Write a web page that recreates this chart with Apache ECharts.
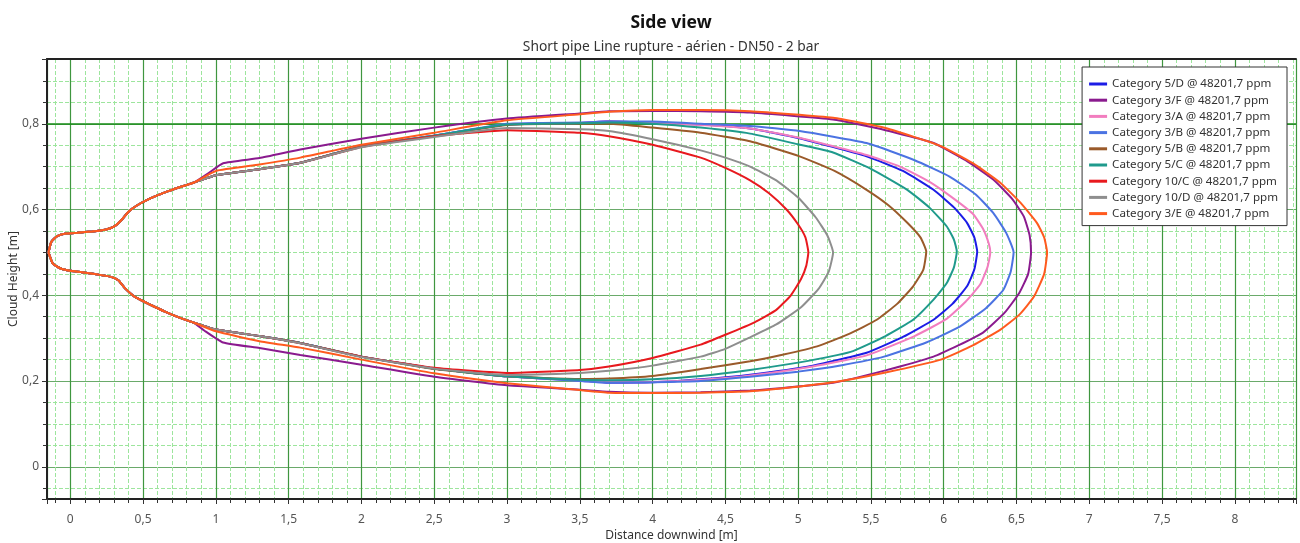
<!DOCTYPE html>
<html>
<head>
<meta charset="utf-8">
<script src="https://cdn.jsdelivr.net/npm/echarts@6/dist/echarts.min.js"></script>
<style>
html,body{margin:0;padding:0;background:#fff;}
#chart{width:1300px;height:543px;}
</style>
</head>
<body>
<div id="chart"></div>
<script>
// ---- data (x = distance downwind [m], y = cloud height [m]) ----
const seriesNames = [
  "Category 5/D @ 48201,7 ppm",
  "Category 3/F @ 48201,7 ppm",
  "Category 3/A @ 48201,7 ppm",
  "Category 3/B @ 48201,7 ppm",
  "Category 5/B @ 48201,7 ppm",
  "Category 5/C @ 48201,7 ppm",
  "Category 10/C @ 48201,7 ppm",
  "Category 10/D @ 48201,7 ppm",
  "Category 3/E @ 48201,7 ppm"
];

// shared source region (upper branch, from the upwind tip)
const leftTop = [[-0.15,0.50],[-0.13,0.525],[-0.09,0.538],[-0.03,0.544],[0.05,0.546],[0.15,0.549],[0.24,0.553],[0.30,0.560],[0.35,0.575],[0.40,0.595],[0.46,0.610],[0.55,0.626],[0.65,0.640],[0.75,0.652],[0.85,0.663]];
// shared source region (lower branch, back to the upwind tip)
const leftBottom = [[0.85,0.336],[0.75,0.348],[0.65,0.362],[0.55,0.378],[0.45,0.395],[0.38,0.415],[0.33,0.435],[0.28,0.443],[0.18,0.449],[0.08,0.454],[0.0,0.457],[-0.07,0.463],[-0.12,0.474],[-0.15,0.50]];

const cat5D = [[1.0,0.68],[1.3,0.694],[1.58,0.709],[2.0,0.747],[2.5,0.772],[3.0,0.798],[3.5,0.802],[3.7,0.806],[4.0,0.802],[4.33,0.798],[4.67,0.789],[5.0,0.767],[5.47,0.724],[5.72,0.69],[5.93,0.646],[6.07,0.605],[6.16,0.569],[6.21,0.535],[6.23,0.502],[6.21,0.46],[6.16,0.421],[6.06,0.38],[5.93,0.343],[5.72,0.303],[5.47,0.266],[5.1,0.236],[4.67,0.215],[4.33,0.204],[4.0,0.197],[3.7,0.196],[3.5,0.201],[3.0,0.211],[2.5,0.229],[2.0,0.257],[1.58,0.289],[1.3,0.305],[1.0,0.32]];
const cat3F = [[0.95,0.685],[1.05,0.708],[1.3,0.72],[1.58,0.74],[2.0,0.765],[2.5,0.791],[3.0,0.812],[3.5,0.824],[3.7,0.829],[4.0,0.830],[4.33,0.829],[4.67,0.826],[5.24,0.81],[5.6,0.785],[5.93,0.755],[6.15,0.715],[6.34,0.67],[6.47,0.625],[6.55,0.584],[6.59,0.54],[6.60,0.5],[6.58,0.45],[6.52,0.406],[6.42,0.36],[6.27,0.313],[6.1,0.283],[5.93,0.257],[5.6,0.225],[5.24,0.196],[4.9,0.184],[4.67,0.178],[4.33,0.174],[4.0,0.173],[3.7,0.175],[3.5,0.18],[3.0,0.19],[2.5,0.21],[2.0,0.238],[1.58,0.261],[1.3,0.277],[1.05,0.29],[0.92,0.318]];
const cat3A = [[1.0,0.68],[1.3,0.694],[1.58,0.709],[2.0,0.747],[2.5,0.772],[3.0,0.798],[3.5,0.802],[3.7,0.805],[4.0,0.802],[4.33,0.797],[4.67,0.789],[5.0,0.768],[5.47,0.727],[5.70,0.70],[5.9,0.665],[6.05,0.63],[6.2,0.59],[6.27,0.555],[6.31,0.52],[6.32,0.5],[6.3,0.465],[6.25,0.425],[6.15,0.385],[6.02,0.345],[5.8,0.305],[5.47,0.26],[5.1,0.234],[4.67,0.213],[4.33,0.203],[4.0,0.198],[3.7,0.197],[3.5,0.201],[3.0,0.211],[2.5,0.229],[2.0,0.257],[1.58,0.289],[1.3,0.305],[1.0,0.32]];
const cat3B = [[1.0,0.68],[1.3,0.694],[1.58,0.709],[2.0,0.747],[2.5,0.772],[3.0,0.80],[3.5,0.803],[3.7,0.805],[4.0,0.805],[4.33,0.80],[4.67,0.795],[5.01,0.783],[5.47,0.755],[5.8,0.715],[6.04,0.677],[6.22,0.635],[6.34,0.592],[6.43,0.545],[6.48,0.5],[6.46,0.455],[6.41,0.413],[6.29,0.37],[6.11,0.327],[5.88,0.29],[5.59,0.257],[5.3,0.237],[5.0,0.222],[4.67,0.21],[4.33,0.2],[4.0,0.197],[3.7,0.196],[3.5,0.20],[3.0,0.211],[2.5,0.229],[2.0,0.257],[1.58,0.289],[1.3,0.305],[1.0,0.32]];
const cat5B = [[1.0,0.68],[1.3,0.694],[1.58,0.709],[2.0,0.747],[2.5,0.771],[3.0,0.797],[3.5,0.80],[3.7,0.80],[4.0,0.791],[4.33,0.779],[4.67,0.759],[5.01,0.724],[5.25,0.69],[5.47,0.646],[5.62,0.61],[5.75,0.569],[5.84,0.535],[5.88,0.502],[5.86,0.46],[5.79,0.421],[5.68,0.38],[5.54,0.343],[5.35,0.31],[5.13,0.281],[4.9,0.262],[4.67,0.246],[4.33,0.228],[4.0,0.212],[3.7,0.206],[3.5,0.205],[3.0,0.211],[2.5,0.228],[2.0,0.257],[1.58,0.289],[1.3,0.305],[1.0,0.32]];
const cat5C = [[1.0,0.68],[1.3,0.694],[1.58,0.709],[2.0,0.747],[2.5,0.772],[3.0,0.798],[3.5,0.801],[3.7,0.803],[4.0,0.80],[4.33,0.791],[4.67,0.777],[5.0,0.752],[5.24,0.733],[5.5,0.695],[5.75,0.646],[5.9,0.605],[6.02,0.561],[6.07,0.53],[6.09,0.502],[6.07,0.465],[6.02,0.428],[5.93,0.39],[5.79,0.343],[5.6,0.305],[5.36,0.268],[5.0,0.243],[4.67,0.226],[4.33,0.212],[4.0,0.204],[3.7,0.202],[3.5,0.203],[3.0,0.211],[2.5,0.229],[2.0,0.257],[1.58,0.289],[1.3,0.305],[1.0,0.32]];
const cat10C = [[1.0,0.68],[1.3,0.694],[1.58,0.709],[2.0,0.746],[2.5,0.771],[3.0,0.785],[3.5,0.779],[3.7,0.771],[4.0,0.751],[4.33,0.721],[4.5,0.697],[4.67,0.668],[4.8,0.638],[4.92,0.6],[5.0,0.565],[5.05,0.535],[5.07,0.5],[5.055,0.468],[5.02,0.438],[4.95,0.40],[4.85,0.366],[4.7,0.337],[4.5,0.308],[4.33,0.285],[4.0,0.254],[3.7,0.234],[3.5,0.226],[3.0,0.219],[2.5,0.231],[2.0,0.257],[1.58,0.288],[1.3,0.305],[1.0,0.32]];
const cat10D = [[1.0,0.68],[1.3,0.694],[1.58,0.709],[2.0,0.745],[2.5,0.769],[3.0,0.79],[3.5,0.787],[3.7,0.783],[4.0,0.764],[4.33,0.738],[4.5,0.721],[4.67,0.70],[4.85,0.668],[5.0,0.628],[5.12,0.582],[5.2,0.54],[5.24,0.50],[5.21,0.455],[5.14,0.415],[5.02,0.372],[4.85,0.332],[4.67,0.302],[4.5,0.275],[4.33,0.257],[4.0,0.236],[3.7,0.224],[3.5,0.219],[3.0,0.214],[2.5,0.229],[2.0,0.256],[1.58,0.288],[1.3,0.305],[1.0,0.32]];
const cat3E = [[1.0,0.69],[1.3,0.705],[1.58,0.721],[2.0,0.751],[2.5,0.779],[3.0,0.808],[3.5,0.822],[3.7,0.828],[4.0,0.832],[4.33,0.832],[4.67,0.829],[5.24,0.814],[5.6,0.79],[5.98,0.748],[6.2,0.708],[6.39,0.662],[6.53,0.615],[6.64,0.569],[6.69,0.535],[6.71,0.5],[6.69,0.45],[6.62,0.397],[6.52,0.355],[6.39,0.32],[6.2,0.283],[5.98,0.25],[5.6,0.22],[5.24,0.197],[4.9,0.183],[4.67,0.176],[4.33,0.173],[4.0,0.172],[3.7,0.173],[3.5,0.179],[3.0,0.195],[2.5,0.218],[2.0,0.25],[1.58,0.278],[1.3,0.293],[1.0,0.316]];

const seriesBodies = [cat5D, cat3F, cat3A, cat3B, cat5B, cat5C, cat10C, cat10D, cat3E];
const seriesColors = ['#1c1ce6','#8a1a8e','#f27dbf','#4b73e2','#9a5a2a','#1f9a8c','#e8191e','#8e8e8e','#ff5a1e'];
const referenceHeight = 0.8;

const fmt = v => String(v).replace('.', ',');

const series = seriesBodies.map((body, i) => {
  const s = {
    name: seriesNames[i],
    type: 'line',
    data: leftTop.concat(body, leftBottom),
    symbol: 'none',
    smooth: 0.15,
    lineStyle: { width: 2, color: seriesColors[i] },
    itemStyle: { color: seriesColors[i] },
    z: 3
  };
  if (i === 0) {
    s.markLine = {
      silent: true, symbol: 'none', label: { show: false }, z: 1,
      lineStyle: { color: '#168a16', type: 'solid', width: 1.5 },
      data: [{ yAxis: referenceHeight }]
    };
  }
  return s;
});

const chart = echarts.init(document.getElementById('chart'), null, { renderer: 'canvas' });
const FONT = '"Segoe UI", "Noto Sans", "Open Sans", sans-serif';
chart.setOption({
  animation: false,
  backgroundColor: '#ffffff',
  textStyle: { fontFamily: FONT },
  title: [
    { text: 'Side view', left: 666, textAlign: 'center', top: 9,
      textStyle: { fontSize: 17.5, fontWeight: 'bold', color: '#111', fontFamily: FONT } },
    { text: 'Short pipe Line rupture - aérien - DN50 - 2 bar', left: 666, textAlign: 'center', top: 35,
      textStyle: { fontSize: 13.8, fontWeight: 'normal', color: '#333', fontFamily: FONT } }
  ],
  legend: {
    orient: 'vertical',
    right: 13, top: 67,
    padding: [10, 9, 5, 7],
    backgroundColor: '#ffffff',
    borderColor: '#333',
    borderWidth: 1,
    borderRadius: 0,
    itemGap: 2.2,
    itemWidth: 18,
    itemHeight: 3,
    icon: 'rect',
    textStyle: { fontSize: 11.6, color: '#333', fontFamily: FONT, lineHeight: 14 },
    data: seriesNames
  },
  grid: { left: 47, right: 4, top: 59, bottom: 44, containLabel: false, outerBoundsMode: 'none' },
  xAxis: [{
    type: 'value', min: -0.16, max: 8.42, splitNumber: 17,
    name: 'Distance downwind [m]', nameLocation: 'middle', nameGap: 31, nameMoveOverlap: false,
    nameTextStyle: { fontSize: 12, color: '#333', fontFamily: FONT },
    axisLine: { show: true, onZero: false, lineStyle: { color: '#222', width: 2 } },
    axisTick: { show: true, length: 5, lineStyle: { color: '#333' } },
    minorTick: { show: true, splitNumber: 5, length: 4, lineStyle: { color: '#333' } },
    splitLine: { show: true, lineStyle: { color: '#3f963f', width: 1.2 } },
    minorSplitLine: { show: true, lineStyle: { color: '#9de59d', type: 'dashed', width: 1 } },
    axisLabel: { formatter: fmt, showMinLabel: false, showMaxLabel: false, margin: 15, fontSize: 12, color: '#555' }
  }, {
    type: 'value', position: 'top', min: -0.16, max: 8.42,
    axisLine: { show: true, onZero: false, lineStyle: { color: '#222', width: 2 } },
    axisTick: { show: false }, axisLabel: { show: false }, splitLine: { show: false }
  }],
  yAxis: [{
    type: 'value', min: -0.075, max: 0.951, splitNumber: 5,
    name: 'Cloud Height [m]', nameLocation: 'middle', nameGap: 27, nameMoveOverlap: false,
    nameTextStyle: { fontSize: 12, color: '#333', fontFamily: FONT },
    axisLine: { show: true, onZero: false, lineStyle: { color: '#222', width: 2 } },
    axisTick: { show: true, length: 5, lineStyle: { color: '#333' } },
    minorTick: { show: true, splitNumber: 4, length: 4, lineStyle: { color: '#333' } },
    splitLine: { show: true, lineStyle: { color: '#6aaa6a', width: 1.2 } },
    minorSplitLine: { show: true, lineStyle: { color: '#9de59d', type: 'dashed', width: 1 } },
    axisLabel: { formatter: fmt, showMinLabel: false, showMaxLabel: false, margin: 8, fontSize: 12, color: '#555' }
  }],
  series: series
});
</script>
</body>
</html>
